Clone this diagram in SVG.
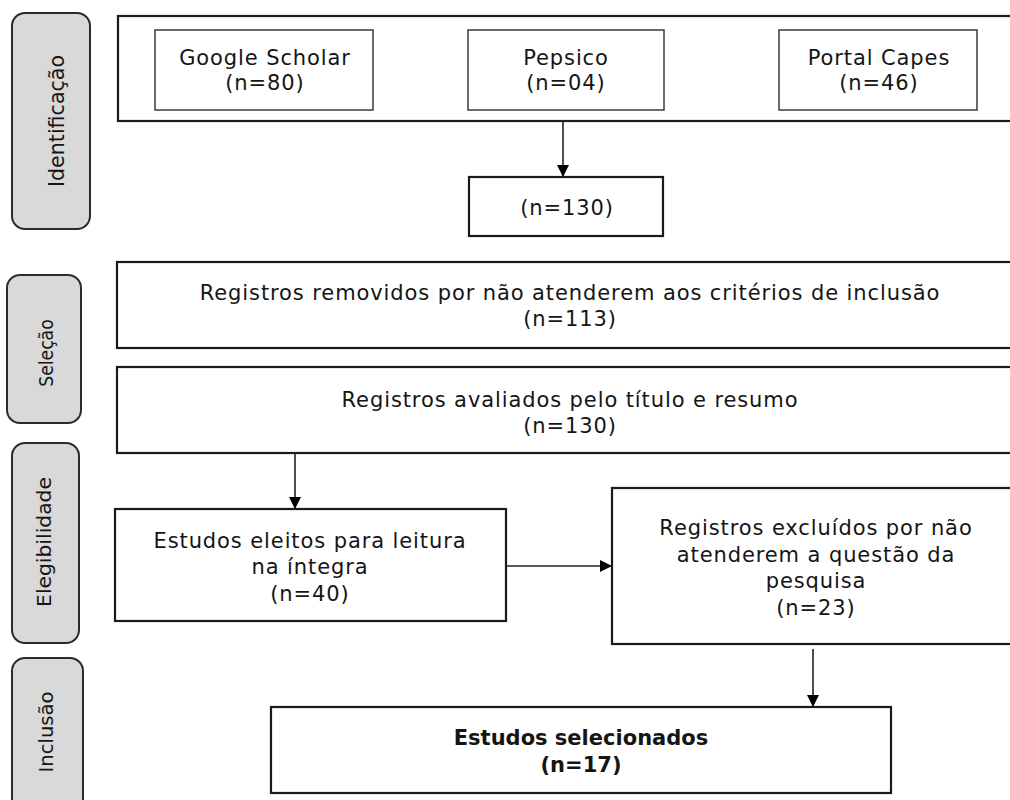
<svg xmlns="http://www.w3.org/2000/svg" width="1010" height="800" viewBox="0 0 1010 800">
<defs>
<marker id="ah" viewBox="0 0 12 12" refX="12" refY="6" markerWidth="12" markerHeight="12" markerUnits="userSpaceOnUse" orient="auto">
<path d="M0,0 L12,6 L0,12 Z" fill="#000"/>
</marker>
<style>
.side rect{fill:#d9d9d9;stroke:#2b2b2b;stroke-width:2}
.box rect{fill:#fff;stroke:#1a1a1a;stroke-width:2.2}
.src rect{fill:#fff;stroke:#3a3a3a;stroke-width:1.5}
text{font-family:"DejaVu Sans",Verdana,sans-serif;font-size:21px;letter-spacing:0.9px;fill:#151515;text-anchor:middle}
.side text{letter-spacing:0}
.b{font-weight:bold;letter-spacing:0}
.conn line{stroke:#222;stroke-width:1.6;marker-end:url(#ah)}
</style>
</defs>
<rect width="1010" height="800" fill="#fff"/>

<g id="lbl-identificacao" class="side">
<rect x="12" y="13" width="78" height="216" rx="13"/>
<text transform="translate(64,121) rotate(-90)" style="font-size:20.6px">Identificação</text>
</g>
<g id="lbl-selecao" class="side">
<rect x="7" y="275" width="74" height="148" rx="13"/>
<text transform="translate(53,353) rotate(-90) scale(0.86,1)" style="font-size:20px">Seleção</text>
</g>
<g id="lbl-elegibilidade" class="side">
<rect x="12" y="443" width="67" height="200" rx="13"/>
<text transform="translate(51,542) rotate(-90)" style="font-size:20.3px">Elegibilidade</text>
</g>
<g id="lbl-inclusao" class="side">
<rect x="12" y="658" width="71" height="160" rx="13"/>
<text transform="translate(53,732) rotate(-90)" style="font-size:19.6px">Inclusão</text>
</g>

<g id="identificacao" class="box">
<rect x="118" y="16" width="910" height="105"/>
</g>
<g id="google-scholar" class="src">
<rect x="155" y="30" width="218" height="80"/>
<text x="265" y="65">Google Scholar</text>
<text x="265" y="90">(n=80)</text>
</g>
<g id="pepsico" class="src">
<rect x="468" y="30" width="196" height="80"/>
<text x="566" y="65">Pepsico</text>
<text x="566" y="90">(n=04)</text>
</g>
<g id="portal-capes" class="src">
<rect x="779" y="30" width="198" height="80"/>
<text x="879" y="65">Portal Capes</text>
<text x="879" y="90">(n=46)</text>
</g>
<g id="total" class="box">
<rect x="469" y="177" width="194" height="59"/>
<text x="567" y="215">(n=130)</text>
</g>
<g id="removidos" class="box">
<rect x="117" y="262" width="910" height="86"/>
<text x="570" y="300">Registros removidos por não atenderem aos critérios de inclusão</text>
<text x="570" y="326">(n=113)</text>
</g>
<g id="avaliados" class="box">
<rect x="117" y="367" width="910" height="86"/>
<text x="570" y="407">Registros avaliados pelo título e resumo</text>
<text x="570" y="433">(n=130)</text>
</g>
<g id="eleitos" class="box">
<rect x="115" y="509" width="391" height="112"/>
<text x="310" y="548">Estudos eleitos para leitura</text>
<text x="310" y="574">na íntegra</text>
<text x="310" y="601">(n=40)</text>
</g>
<g id="excluidos" class="box">
<rect x="612" y="488" width="416" height="156"/>
<text x="816" y="535">Registros excluídos por não</text>
<text x="816" y="562">atenderem a questão da</text>
<text x="816" y="588">pesquisa</text>
<text x="816" y="615">(n=23)</text>
</g>
<g id="selecionados" class="box">
<rect x="271" y="707" width="620" height="86"/>
<text class="b" x="581" y="745">Estudos selecionados</text>
<text class="b" x="581" y="772">(n=17)</text>
</g>

<g id="connectors" class="conn">
<line x1="563" y1="121" x2="563" y2="177"/>
<line x1="295" y1="453" x2="295" y2="509"/>
<line x1="506" y1="566" x2="612" y2="566"/>
<line x1="813" y1="649" x2="813" y2="707"/>
</g>
</svg>
